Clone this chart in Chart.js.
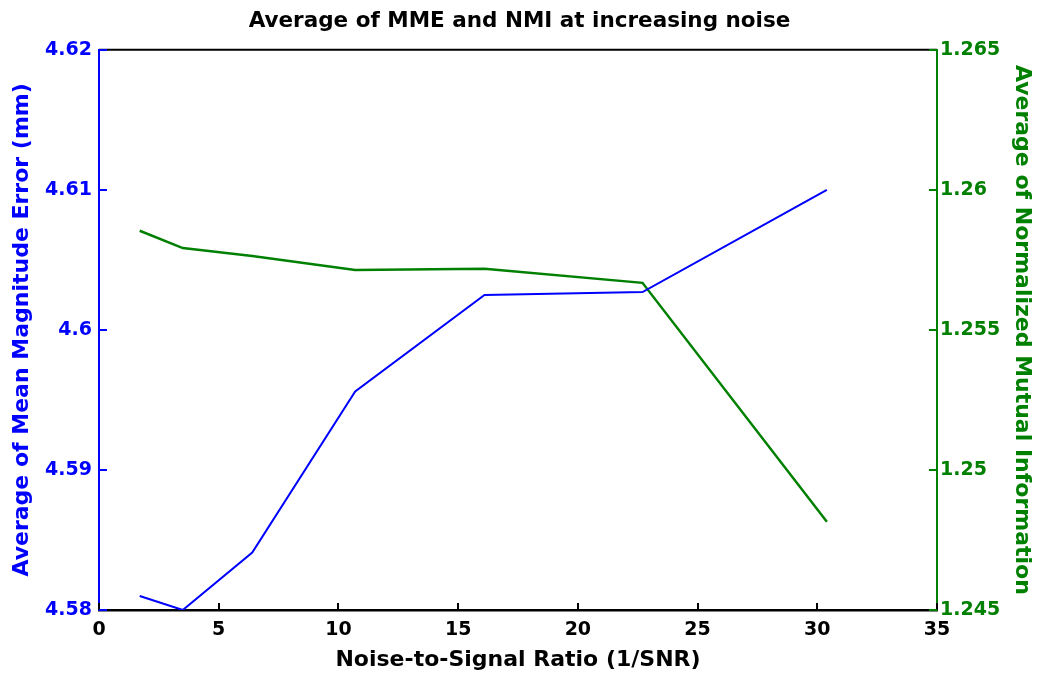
<!DOCTYPE html>
<html>
<head>
<meta charset="utf-8">
<script src="https://cdn.jsdelivr.net/npm/chart.js@4/dist/chart.umd.min.js"></script>
<style>
  html, body { margin: 0; padding: 0; background: #fff; }
  #wrap { width: 1039px; height: 673px; }
</style>
</head>
<body>
<div id="wrap"><canvas id="c"></canvas></div>
<script>
// values
var nsr = [1.7, 3.5, 6.4, 10.7, 16.1, 22.7, 30.4];
var mme = [4.5810, 4.5800, 4.5841, 4.5956, 4.6025, 4.6027, 4.6100];
var nmi = [1.25854, 1.25792, 1.25764, 1.25714, 1.25718, 1.25668, 1.24815];

var xTicks = [0, 5, 10, 15, 20, 25, 30, 35];
var mmeTicks = [4.58, 4.59, 4.60, 4.61, 4.62];
var nmiTicks = [1.245, 1.25, 1.255, 1.26, 1.265];

var BLUE = '#0000ff';
var GREEN = '#008000';
var FONT = '"DejaVu Sans", sans-serif';

function pts(xs, ys) {
    return xs.map(function (x, i) { return { x: x, y: ys[i] }; });
}
function fmt(v) { return String(+v.toFixed(4)); }

// inward ticks + top box line, drawn on the library scales
var axisDecor = {
    id: 'axisDecor',
    afterDraw: function (chart) {
        var ctx = chart.ctx, a = chart.chartArea;
        var sx = chart.scales.x, sl = chart.scales.y, sr = chart.scales.y2;
        ctx.save();
        ctx.lineWidth = 2;
        ctx.strokeStyle = '#000';
        ctx.beginPath();
        ctx.moveTo(a.left, a.top); ctx.lineTo(a.right, a.top);
        xTicks.forEach(function (t) {
            var px = Math.round(sx.getPixelForValue(t));
            ctx.moveTo(px, a.bottom); ctx.lineTo(px, a.bottom - 7);
        });
        ctx.stroke();
        ctx.strokeStyle = BLUE;
        ctx.beginPath();
        mmeTicks.forEach(function (t) {
            var py = Math.round(sl.getPixelForValue(t));
            ctx.moveTo(a.left, py); ctx.lineTo(a.left + 8, py);
        });
        ctx.stroke();
        ctx.strokeStyle = GREEN;
        ctx.beginPath();
        nmiTicks.forEach(function (t) {
            var py = Math.round(sr.getPixelForValue(t));
            ctx.moveTo(a.right, py); ctx.lineTo(a.right - 8, py);
        });
        ctx.stroke();
        ctx.restore();
    }
};

new Chart(document.getElementById('c'), {
    type: 'line',
    data: {
        datasets: [{
            label: 'MME',
            data: pts(nsr, mme),
            borderColor: BLUE,
            borderWidth: 2,
            pointRadius: 0,
            tension: 0,
            yAxisID: 'y'
        }, {
            label: 'NMI',
            data: pts(nsr, nmi),
            borderColor: GREEN,
            borderWidth: 2.5,
            pointRadius: 0,
            tension: 0,
            yAxisID: 'y2'
        }]
    },
    options: {
        responsive: true,
        maintainAspectRatio: false,
        animation: false,
        layout: { padding: 0 },
        plugins: {
            legend: { display: false },
            tooltip: { enabled: false },
            title: {
                display: true,
                text: 'Average of MME and NMI at increasing noise',
                color: '#000',
                font: { family: FONT, size: 21.5, weight: 'bold' },
                padding: { top: 9, bottom: 15 }
            }
        },
        scales: {
            x: {
                type: 'linear',
                min: 0, max: 35,
                afterBuildTicks: function (s) { s.ticks = xTicks.map(function (v) { return { value: v }; }); },
                afterFit: function (s) { s.height = 63; },
                grid: { display: false, drawTicks: false },
                border: { display: true, color: '#000', width: 2.5 },
                ticks: { color: '#000', padding: 9, maxRotation: 0, font: { family: FONT, size: 19, weight: 'bold' } },
                title: {
                    display: true,
                    text: 'Noise-to-Signal Ratio (1/SNR)',
                    color: '#000',
                    font: { family: FONT, size: 22, weight: 'bold' },
                    padding: { top: 0, bottom: 0 }
                }
            },
            y: {
                position: 'left',
                min: 4.58, max: 4.62,
                afterBuildTicks: function (s) { s.ticks = mmeTicks.map(function (v) { return { value: v }; }); },
                afterFit: function (s) { s.width = 99; },
                grid: { display: false, drawTicks: false },
                border: { display: true, color: BLUE, width: 2 },
                ticks: { color: BLUE, padding: 7, callback: fmt, font: { family: FONT, size: 19, weight: 'bold' } },
                title: {
                    display: true,
                    text: 'Average of Mean Magnitude Error (mm)',
                    color: BLUE,
                    font: { family: FONT, size: 22, weight: 'bold' },
                    padding: { top: 9, bottom: 0 }
                }
            },
            y2: {
                position: 'right',
                min: 1.245, max: 1.265,
                afterBuildTicks: function (s) { s.ticks = nmiTicks.map(function (v) { return { value: v }; }); },
                afterFit: function (s) { s.width = 102; },
                grid: { display: false, drawTicks: false },
                border: { display: true, color: GREEN, width: 2 },
                ticks: { color: GREEN, padding: 3, callback: fmt, font: { family: FONT, size: 19, weight: 'bold' } },
                title: {
                    display: true,
                    text: 'Average of Normalized Mutual Information',
                    color: GREEN,
                    font: { family: FONT, size: 22, weight: 'bold' },
                    padding: { top: 4, bottom: 0 }
                }
            }
        }
    },
    plugins: [axisDecor]
});
</script>
</body>
</html>
